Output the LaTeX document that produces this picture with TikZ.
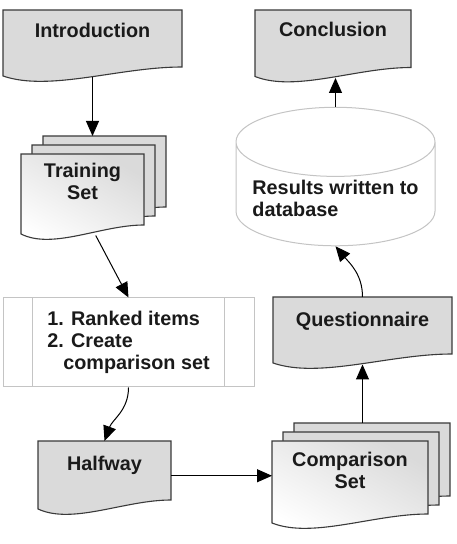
\documentclass[tikz,border=0pt]{standalone}
\usepackage{fontspec}
\setmainfont{Liberation Sans}
\usetikzlibrary{shapes.geometric, positioning, arrows.meta, calc, backgrounds}
\definecolor{DocGray}{HTML}{DADADA}
\definecolor{EdgeGray}{HTML}{3A3A3A}
\definecolor{PaleGray}{HTML}{C4C4C4}
\definecolor{InkBlack}{HTML}{1A1A1A}

% document outline with a wavy bottom, drawn round a named node
\newcommand{\docshape}[2]{%
  \draw[#1] (#2.north west) -- (#2.north east) -- ($(#2.south east)+(0,10.5pt)$)
    .. controls ($(#2.south east)!0.35!(#2.south west)+(0,10.5pt)$)
    and ($(#2.south west)!0.26!(#2.south east)+(0,-14.5pt)$)
    .. ($(#2.south west)+(0,1.5pt)$) -- cycle;}

\tikzset{
  docbox/.style={inner sep=0pt, outer sep=0pt},
  doctext/.style={anchor=north, align=center, inner sep=2pt, text=InkBlack},
  docfill/.style={draw=EdgeGray, line width=1.1pt, fill=DocGray},
  docshade/.style={draw=EdgeGray, line width=1.1pt, top color=DocGray, bottom color=white, shading angle=-30},
  procbox/.style={draw=PaleGray, line width=1pt, align=left, text=InkBlack},
  arr/.style={-{Triangle[length=15pt, width=13pt]}, line width=1pt},
  trainsize/.style={minimum width=123pt, minimum height=81.5pt},
  compsize/.style={minimum width=156pt, minimum height=83.5pt}
}

\begin{document}
\begin{tikzpicture}[x=1pt, y=1pt, font=\fontsize{19.8}{22}\selectfont\bfseries]
  \useasboundingbox (0,0) rectangle (456,544);

  % single documents
  \node[docbox, minimum width=179pt, minimum height=67.5pt,
        label={[doctext, yshift=-11pt]north:Introduction}] (intro) at (92.5,500.25) {};
  \node[docbox, minimum width=156pt, minimum height=68pt,
        label={[doctext, yshift=-10pt]north:Conclusion}] (concl) at (333,500) {};
  \node[docbox, minimum width=133pt, minimum height=69.5pt,
        label={[doctext, yshift=-13pt]north:Halfway}] (half) at (104.5,68.25) {};
  \node[docbox, minimum width=179pt, minimum height=67.5pt,
        label={[doctext, yshift=-13pt]north:Questionnaire}] (quest) at (362.5,213.25) {};

  % stacked documents
  \node[docbox, trainsize] (train3) at (104.5,367.25) {};
  \node[docbox, trainsize] (train2) at (93.5,358.25) {};
  \node[docbox, trainsize,
        label={[doctext, yshift=-7pt]north:{Training\\Set}}] (train) at (82.5,349.25) {};
  \node[docbox, compsize] (comp3) at (372,79.25) {};
  \node[docbox, compsize] (comp2) at (361,70.25) {};
  \node[docbox, compsize,
        label={[doctext, yshift=-9pt]north:{Comparison\\Set}}] (comp) at (350,61.25) {};

  % process and store
  \node[procbox, minimum width=251pt, minimum height=89pt] (rank) at (128.5,201.5)
    {1. Ranked items\\2. Create\\\hspace*{16pt}comparison set};
  \draw[PaleGray, line width=1pt] ([xshift=30pt]rank.north west) -- ([xshift=30pt]rank.south west);
  \draw[PaleGray, line width=1pt] ([xshift=-30pt]rank.north east) -- ([xshift=-30pt]rank.south east);
  \node[cylinder, shape border rotate=90, aspect=0.4, draw=PaleGray, line width=1pt,
        fill=white, minimum width=199pt, minimum height=127pt, align=left,
        text=InkBlack] (db) at (335.5,345.5) {Results written to\\database};

  \begin{scope}[on background layer]
    \foreach \n in {intro, concl, half, quest, train3, train2, comp3, comp2}
      \docshape{docfill}{\n};
    \docshape{docshade}{train};
    \docshape{docshade}{comp};
  \end{scope}

  \draw[arr] (intro.south) -- (intro.south |- train3.north);
  \draw[arr] (train.-72) -- (rank.north);
  \draw[arr] (rank.south) to[out=-90, in=70] (half.north);
  \draw[arr] (half.east) -- (half.east -| comp.west);
  \draw[arr] (quest.south |- comp3.north) -- (quest.south);
  \draw[arr] (quest.north) to[out=90, in=-50] (db.bottom);
  \draw[arr] (db.top) -- (db.top |- concl.south);
\end{tikzpicture}
\end{document}
